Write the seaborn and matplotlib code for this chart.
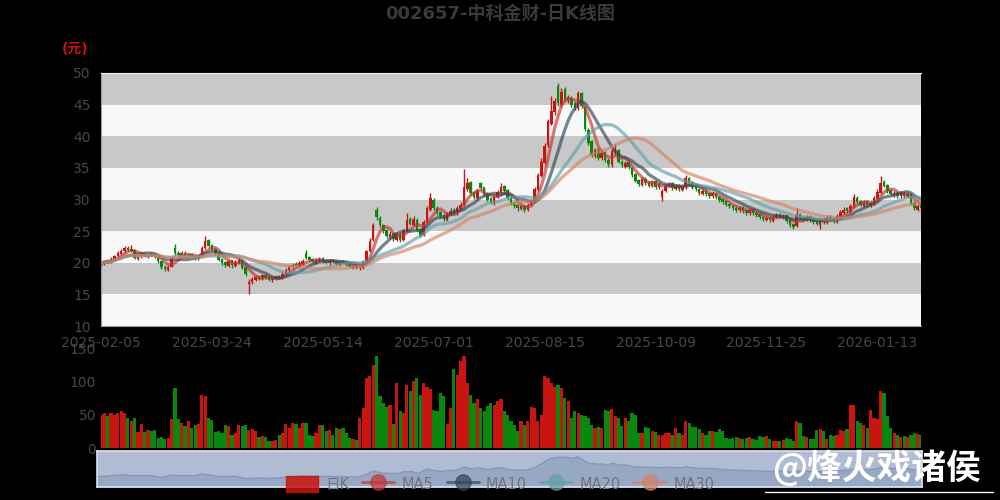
import numpy as np
import pandas as pd
import matplotlib
matplotlib.use('Agg')
import matplotlib.pyplot as plt
import seaborn as sns
from matplotlib.patches import Patch
from matplotlib.lines import Line2D

# Daily K-line data (price in yuan, volume in the chart's units)
opens = [19.5, 19.8, 20.4, 20.1, 20.6, 21.0, 21.4, 21.8, 22.4, 21.9,
         22.0, 20.6, 21.0, 21.4, 21.0, 21.5, 21.3, 20.8, 20.2, 19.4,
         18.9, 19.4, 22.3, 21.6, 21.1, 21.6, 21.0, 21.4, 21.2, 20.6,
         21.0, 22.3, 23.6, 22.8, 22.1, 21.6, 20.6, 20.1, 19.5, 20.4,
         19.5, 20.0, 20.4, 19.3, 16.6, 17.0, 17.3, 17.9, 17.4, 18.1,
         17.7, 17.2, 17.4, 17.9, 17.6, 18.2, 18.8, 19.3, 19.8, 19.4,
         19.8, 21.6, 20.9, 20.6, 20.0, 20.3, 20.7, 20.4, 19.9, 20.4,
         20.2, 19.7, 20.2, 20.1, 19.8, 19.2, 19.6, 19.1, 19.2, 20.3,
         21.9, 23.6, 28.4, 27.0, 26.0, 25.1, 24.0, 24.7, 23.6, 24.6,
         23.6, 25.0, 26.9, 26.0, 26.8, 25.3, 24.4, 26.5, 28.4, 30.0,
         28.6, 28.0, 27.5, 26.8, 27.7, 28.4, 27.8, 28.5, 29.2, 31.6,
         32.8, 31.2, 30.2, 32.6, 31.9, 30.9, 30.2, 29.4, 30.4, 31.0,
         32.1, 31.5, 30.3, 29.5, 29.1, 28.5, 29.0, 28.4, 29.1, 29.8,
         31.5, 33.7, 35.8, 38.6, 42.0, 43.8, 48.0, 45.0, 47.4, 45.6,
         46.0, 45.2, 44.4, 46.8, 44.6, 41.0, 39.2, 36.8, 37.9, 36.5,
         37.5, 36.3, 35.4, 37.4, 37.8, 36.0, 35.2, 35.9, 35.0, 34.0,
         33.1, 32.3, 33.3, 32.7, 32.1, 32.9, 31.9, 30.4, 31.4, 32.1,
         32.6, 31.7, 32.3, 31.5, 31.9, 33.4, 32.7, 32.1, 31.6, 30.9,
         31.4, 31.0, 30.5, 31.0, 30.4, 30.0, 29.7, 29.3, 29.0, 28.7,
         28.3, 28.7, 28.3, 27.8, 28.4, 27.9, 27.7, 27.3, 26.8, 27.2,
         26.6, 27.2, 27.7, 27.1, 27.5, 26.7, 26.1, 25.8, 27.7, 27.1,
         26.8, 27.4, 26.9, 26.6, 26.0, 26.9, 26.3, 27.3, 27.0, 26.5,
         27.3, 27.9, 28.6, 28.1, 28.9, 30.3, 29.7, 29.0, 29.7, 29.0,
         29.3, 30.1, 31.1, 32.8, 32.3, 31.5, 30.6, 31.1, 30.5, 31.1,
         30.4, 30.9, 29.5, 28.4, 29.1]

closes = [19.9, 20.3, 20.1, 20.6, 21.0, 21.5, 21.9, 22.3, 22.0, 22.2,
          20.8, 21.0, 21.3, 21.1, 21.4, 21.2, 20.9, 20.2, 19.3, 19.0,
          19.4, 20.8, 21.6, 21.2, 21.5, 21.0, 21.3, 21.1, 20.7, 21.0,
          22.4, 23.4, 22.6, 22.0, 21.6, 20.4, 20.0, 19.6, 20.3, 19.6,
          20.1, 20.5, 19.2, 18.2, 17.0, 17.4, 17.8, 17.5, 18.0, 17.6,
          17.3, 17.5, 17.8, 17.6, 18.3, 18.9, 19.4, 19.7, 19.5, 19.9,
          20.3, 20.8, 20.5, 20.1, 20.4, 20.6, 20.2, 20.0, 20.3, 20.1,
          19.8, 20.1, 20.0, 19.7, 19.4, 19.5, 19.2, 19.3, 20.2, 21.8,
          23.5, 26.0, 27.2, 26.0, 25.0, 24.2, 24.6, 23.8, 24.5, 23.6,
          25.0, 26.8, 26.2, 26.9, 25.2, 24.3, 26.5, 28.6, 30.2, 28.6,
          27.8, 27.4, 26.9, 27.8, 28.2, 27.9, 28.6, 29.2, 31.9, 32.6,
          31.0, 30.4, 31.3, 31.8, 30.8, 30.0, 29.6, 30.5, 31.2, 32.0,
          31.4, 30.2, 29.4, 29.0, 28.6, 28.9, 28.4, 29.2, 29.8, 31.6,
          33.8, 36.0, 38.5, 42.4, 44.0, 45.6, 45.2, 47.0, 45.8, 46.2,
          45.0, 44.6, 46.8, 44.8, 41.2, 39.0, 37.0, 37.8, 36.6, 37.4,
          36.2, 35.6, 37.6, 38.0, 36.0, 35.4, 35.8, 35.2, 33.8, 33.0,
          32.4, 33.2, 32.6, 32.2, 32.8, 32.0, 32.4, 31.4, 32.2, 32.5,
          31.8, 32.2, 31.6, 32.0, 33.4, 32.6, 32.0, 31.6, 31.0, 31.3,
          30.9, 30.6, 31.0, 30.4, 29.9, 29.6, 29.2, 28.9, 28.6, 28.4,
          28.6, 28.2, 27.9, 28.3, 27.8, 27.6, 27.2, 26.9, 27.1, 26.7,
          27.3, 27.6, 27.2, 27.4, 26.6, 26.0, 25.6, 27.6, 27.0, 26.9,
          27.3, 26.8, 26.5, 26.2, 26.8, 26.4, 27.2, 26.9, 26.6, 27.4,
          28.0, 28.4, 28.2, 29.0, 30.4, 29.6, 29.2, 29.6, 29.1, 29.4,
          30.2, 31.2, 32.6, 32.2, 31.4, 30.8, 31.0, 30.6, 31.0, 30.6,
          30.9, 29.4, 28.6, 29.0, 28.6]

highs = [20.1, 20.5, 20.6, 20.9, 21.3, 21.8, 22.2, 22.6, 22.7, 22.8,
         22.1, 21.3, 21.6, 21.7, 21.6, 21.7, 21.5, 21.0, 20.3, 19.6,
         19.6, 21.0, 22.9, 21.8, 21.8, 21.8, 21.6, 21.6, 21.3, 21.3,
         22.7, 24.2, 23.8, 23.0, 22.3, 21.7, 20.8, 20.3, 20.6, 20.5,
         20.4, 20.9, 20.5, 19.4, 17.4, 17.7, 18.1, 18.1, 18.3, 18.3,
         17.9, 17.8, 18.0, 18.1, 18.5, 19.2, 19.7, 20.0, 20.1, 20.2,
         20.6, 22.0, 21.1, 20.8, 20.7, 20.9, 20.9, 20.6, 20.6, 20.6,
         20.4, 20.4, 20.4, 20.3, 20.0, 19.8, 19.8, 19.6, 20.4, 22.0,
         23.9, 26.3, 28.8, 27.4, 26.2, 25.3, 25.0, 24.9, 24.8, 24.8,
         25.3, 27.9, 27.2, 27.4, 27.0, 25.5, 26.8, 29.0, 31.0, 30.3,
         28.9, 28.2, 27.7, 28.1, 28.6, 28.6, 28.9, 29.6, 34.9, 33.4,
         33.0, 31.4, 31.6, 32.8, 32.0, 31.1, 30.4, 30.8, 31.5, 32.6,
         32.3, 31.6, 30.5, 29.7, 29.3, 29.2, 29.2, 29.5, 30.1, 31.9,
         34.2, 36.5, 39.0, 42.8, 46.4, 46.0, 48.4, 47.6, 47.8, 46.6,
         46.3, 45.5, 47.2, 47.0, 44.8, 41.3, 39.4, 38.2, 38.1, 37.8,
         37.7, 36.5, 38.0, 38.7, 38.0, 36.3, 36.1, 36.1, 35.2, 34.2,
         33.3, 33.5, 33.5, 32.9, 33.1, 33.1, 32.7, 31.7, 32.5, 32.8,
         32.8, 32.5, 32.5, 32.3, 33.8, 33.6, 32.9, 32.3, 31.8, 31.6,
         31.6, 31.2, 31.3, 31.2, 30.6, 30.2, 29.9, 29.5, 29.2, 28.9,
         28.9, 28.9, 28.5, 28.6, 28.6, 28.1, 27.9, 27.5, 27.4, 27.4,
         27.6, 27.9, 27.9, 27.7, 27.7, 26.9, 26.3, 28.7, 27.9, 27.4,
         27.6, 27.6, 27.1, 26.8, 27.1, 27.1, 27.5, 27.5, 27.2, 27.7,
         28.3, 28.8, 28.8, 29.3, 30.9, 30.5, 29.9, 29.9, 29.9, 29.7,
         30.5, 31.6, 33.7, 33.1, 32.5, 31.7, 31.3, 31.3, 31.3, 31.3,
         31.2, 31.0, 29.7, 29.3, 29.3]

lows = [19.3, 19.6, 19.9, 20.0, 20.4, 20.8, 21.2, 21.6, 21.8, 21.7,
        20.6, 20.4, 20.8, 20.9, 20.8, 21.0, 20.7, 20.0, 19.0, 18.7,
        18.7, 19.3, 21.3, 20.9, 20.9, 20.8, 20.8, 20.9, 20.5, 20.5,
        20.9, 22.1, 22.3, 21.8, 21.3, 20.2, 19.7, 19.3, 19.3, 19.2,
        19.3, 19.8, 19.0, 17.9, 15.1, 16.7, 17.1, 17.3, 17.2, 17.4,
        17.1, 17.0, 17.2, 17.4, 17.5, 18.0, 18.6, 19.1, 19.3, 19.2,
        19.6, 20.6, 20.3, 19.9, 19.8, 20.1, 20.0, 19.8, 19.7, 19.9,
        19.6, 19.5, 19.8, 19.5, 19.2, 19.0, 19.0, 18.9, 19.0, 20.1,
        21.7, 23.4, 26.8, 25.7, 24.7, 23.9, 23.8, 23.5, 23.4, 23.3,
        23.4, 24.8, 25.9, 25.8, 25.0, 24.0, 24.2, 26.3, 28.2, 28.3,
        27.5, 27.1, 26.6, 26.6, 27.5, 27.6, 27.6, 28.3, 29.0, 31.3,
        30.7, 30.1, 30.0, 31.5, 30.5, 29.7, 29.3, 29.2, 30.2, 30.8,
        31.1, 29.9, 29.1, 28.7, 28.2, 28.3, 28.1, 28.2, 28.9, 29.6,
        31.3, 33.5, 35.6, 38.3, 41.8, 43.3, 44.8, 44.7, 45.5, 45.3,
        44.6, 44.2, 44.2, 44.5, 40.9, 38.6, 36.7, 36.5, 36.3, 36.2,
        35.9, 35.2, 35.2, 37.1, 35.7, 35.1, 35.0, 34.9, 33.5, 32.7,
        32.1, 32.1, 32.3, 31.9, 31.9, 31.7, 31.7, 29.7, 31.2, 31.9,
        31.5, 31.5, 31.3, 31.3, 31.7, 32.3, 31.7, 31.3, 30.7, 30.7,
        30.6, 30.3, 30.3, 30.1, 29.6, 29.3, 28.9, 28.6, 28.3, 28.1,
        28.1, 27.9, 27.6, 27.6, 27.5, 27.3, 26.9, 26.6, 26.6, 26.4,
        26.4, 27.0, 27.0, 26.9, 26.3, 25.7, 25.3, 25.6, 26.7, 26.6,
        26.6, 26.5, 26.2, 25.9, 25.4, 26.1, 26.1, 26.6, 26.3, 26.3,
        27.1, 27.7, 27.9, 27.9, 28.7, 29.3, 28.9, 28.8, 28.8, 28.8,
        29.1, 29.9, 30.9, 31.9, 31.1, 30.5, 30.4, 30.3, 30.3, 30.3,
        30.2, 29.1, 28.3, 28.2, 28.3]

volumes = [50, 53, 48, 52, 50, 53, 55, 52, 45, 40,
           45, 24, 36, 24, 27, 25, 27, 15, 16, 14,
           15, 43, 90, 43, 38, 33, 40, 30, 35, 36,
           80, 78, 45, 42, 24, 26, 22, 35, 33, 20,
           22, 34, 33, 34, 27, 28, 25, 17, 18, 16,
           11, 10, 12, 20, 23, 36, 30, 37, 36, 30,
           37, 37, 20, 18, 22, 35, 34, 25, 27, 20,
           30, 28, 30, 22, 15, 14, 12, 45, 60, 105,
           108, 125, 138, 78, 68, 62, 65, 36, 97, 55,
           52, 95, 85, 100, 105, 80, 98, 92, 88, 57,
           55, 83, 78, 36, 60, 118, 110, 130, 138, 97,
           80, 68, 73, 60, 55, 63, 68, 65, 70, 73,
           55, 50, 40, 35, 25, 40, 35, 40, 62, 60,
           40, 50, 108, 105, 97, 92, 95, 90, 75, 70,
           45, 55, 52, 50, 48, 45, 35, 30, 32, 30,
           57, 55, 58, 48, 45, 33, 45, 40, 52, 50,
           23, 22, 32, 30, 26, 24, 20, 20, 22, 22,
           20, 30, 22, 20, 40, 38, 32, 32, 28, 22,
           20, 25, 25, 24, 28, 26, 15, 14, 15, 16,
           15, 14, 15, 16, 13, 12, 18, 17, 18, 13,
           10, 11, 10, 12, 15, 14, 10, 40, 38, 18,
           16, 13, 14, 27, 28, 25, 13, 20, 18, 20,
           27, 26, 28, 65, 64, 40, 38, 35, 30, 57,
           45, 44, 85, 83, 48, 30, 22, 20, 17, 18,
           16, 20, 22, 21, 20]

tick_labels = ['2025-02-05', '2025-03-24', '2025-05-14', '2025-07-01',
               '2025-08-15', '2025-10-09', '2025-11-25', '2026-01-13']
holidays = ['2025-04-04', '2025-05-01', '2025-05-02', '2025-05-05', '2025-06-02',
            '2025-10-01', '2025-10-02', '2025-10-03', '2025-10-06', '2025-10-07',
            '2025-10-08', '2026-01-01', '2026-01-02']
ma_windows = [5, 10, 20, 30]
ma_names = ['MA5', 'MA10', 'MA20', 'MA30']
ma_colors = ['#c23531', '#2f4554', '#61a0a8', '#d48265']

up_color = '#c8150f'
down_color = '#0a870e'

# trading calendar -> category positions
n = len(closes)
dates = pd.bdate_range('2025-02-05', '2026-02-13')
dates = dates[~dates.isin(pd.to_datetime(holidays))][:n]
tick_pos = [dates.get_loc(pd.Timestamp(t)) for t in tick_labels]

df = pd.DataFrame({'date': dates, 'open': opens, 'close': closes,
                   'high': highs, 'low': lows, 'volume': volumes})
df['idx'] = np.arange(n)
df['dir'] = np.where(df['close'] >= df['open'], 'up', 'down')
for w, name in zip(ma_windows, ma_names):
    df[name] = df['close'].rolling(w, min_periods=1).mean()

sns.set_style('white')
plt.rcParams['font.family'] = ['DejaVu Sans', 'Noto Sans CJK SC']

fig = plt.figure(figsize=(10, 5), dpi=100, facecolor='black')

# ---- main K-line panel
ax = fig.add_axes([0.101, 0.348, 0.82, 0.506])
ax.set_facecolor('black')
for k, lo in enumerate(range(10, 50, 5)):
    ax.axhspan(lo, lo + 5, color='#f8f8f8' if k % 2 == 0 else '#c8c8c8', lw=0, zorder=0)

cols = np.where(df['dir'] == 'up', up_color, down_color)
ax.vlines(df['idx'], df['low'], df['high'], colors=cols, lw=1.0, zorder=2)
body_low = np.minimum(df['open'], df['close'])
body_h = np.maximum(np.abs(df['close'] - df['open']), 0.1)
ax.bar(df['idx'], body_h, bottom=body_low, width=0.75, color=cols, lw=0, zorder=3)

for name, c in zip(ma_names, ma_colors):
    sns.lineplot(data=df, x='idx', y=name, ax=ax, color=c, lw=2.3, alpha=0.65,
                 legend=False, zorder=4)

ax.set_xlim(0, n - 1)
ax.set_ylim(10, 50)
ax.set_yticks(range(10, 55, 5))
ax.set_xticks(tick_pos)
ax.set_xticklabels(tick_labels)
ax.set_xlabel('')
ax.set_ylabel('')
ax.tick_params(axis='both', colors='#9a9a9a', labelcolor='#474747', labelsize=10,
               length=4, direction='out')
ax.spines['right'].set_visible(False)
ax.spines['top'].set_color('#f0f0f0')
ax.spines['left'].set_color('#9a9a9a')
ax.spines['bottom'].set_color('#9a9a9a')

# ---- volume panel
vax = fig.add_axes([0.101, 0.104, 0.82, 0.2])
vax.set_facecolor('black')
sns.barplot(data=df, x='idx', y='volume', hue='dir', ax=vax, native_scale=True,
            palette={'up': up_color, 'down': down_color}, dodge=False, saturation=1,
            width=0.95, linewidth=0, legend=False)
vax.set_xlim(0, n - 1)
vax.set_ylim(0, 150)
vax.set_yticks([0, 50, 100, 150])
vax.set_xticks([])
vax.set_xlabel('')
vax.set_ylabel('')
vax.tick_params(axis='y', colors='#474747', labelcolor='#474747', labelsize=10, length=0)
for s in vax.spines.values():
    s.set_visible(False)

# ---- data zoom slider
sax = fig.add_axes([0.097, 0.026, 0.825, 0.072])
sax.set_facecolor('#afbcd4')
sax.fill_between(df['idx'], 5.7, df['close'], color='#97a8c4', lw=0)
sax.plot(df['idx'], df['close'], color='#8696b3', lw=1)
sax.set_xlim(0, n - 1)
sax.set_ylim(5.7, 54.7)
sax.set_xticks([])
sax.set_yticks([])
for s in sax.spines.values():
    s.set_color('#dde3ee')
    s.set_linewidth(1.2)

# ---- texts
fig.text(0.5, 0.972, '002657-中科金财-日K线图', ha='center', va='center',
         fontsize=13, fontweight='bold', color='#3a3a3a')
fig.text(0.075, 0.902, '(元)', ha='center', va='center', fontsize=10,
         fontweight='bold', color='#d01010')

handles = [Patch(facecolor=up_color, edgecolor=up_color, alpha=0.85)]
for c in ma_colors:
    handles.append(Line2D([0], [0], color=c, lw=2, marker='o', markersize=11, alpha=0.7))
fig.legend(handles, ['日K'] + ma_names, loc='center', bbox_to_anchor=(0.5, 0.032),
           ncol=5, frameon=False, fontsize=10.5, labelcolor='#6e7480',
           handlelength=2.2, handleheight=1.3, columnspacing=0.9, handletextpad=0.5)

fig.text(0.876, 0.064, '@烽火戏诸侯', ha='center', va='center', fontsize=25,
         fontweight='bold', color='white', family=['Noto Sans CJK SC', 'DejaVu Sans'])
fig.add_artist(Line2D([0.765, 0.993], [0.016, 0.016], color='white', lw=1))

fig.savefig('out.png', dpi=100, facecolor='black')
